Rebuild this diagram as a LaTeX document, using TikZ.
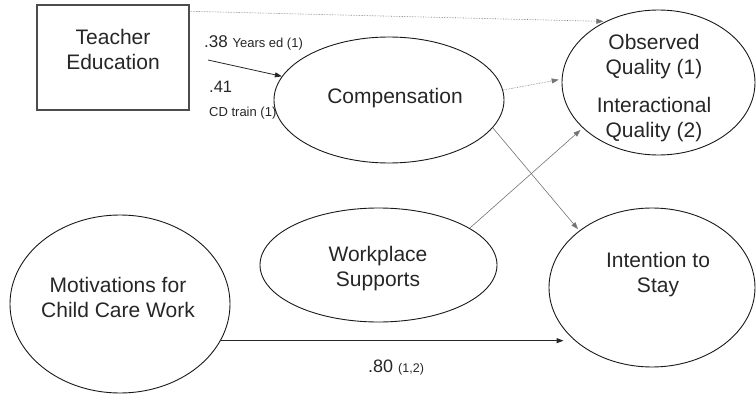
\documentclass[tikz,border=0pt]{standalone}
\usepackage{fontspec}
\setmainfont{Liberation Sans}
\usetikzlibrary{shapes.geometric,arrows.meta}

\tikzset{
  oval/.style={draw=black!90, line width=0.9pt, ellipse, inner sep=0pt},
  txt/.style={font=\fontsize{21}{25}\selectfont, align=center, text=black!85, inner sep=0pt},
  small/.style={inner sep=0pt, anchor=base west, text=black!85},
  link/.style={draw=black!85, line width=0.8pt, -{Triangle[length=7pt,width=5pt]}},
  faint/.style={link, draw=black!55, line width=0.6pt},
}

\begin{document}
\begin{tikzpicture}[x=1pt, y=-1pt]
    \useasboundingbox (0,0) rectangle (756,396);

    % Box and ovals
    \node[draw=black!70, line width=1.4pt, minimum width=152pt, minimum height=105pt, inner sep=0pt] (teach) at (113,57.5) {};
    \node[oval, minimum width=230pt, minimum height=126pt] (comp) at (389,100) {};
    \node[oval, minimum width=193pt, minimum height=145pt] (obs) at (658.5,82.5) {};
    \node[oval, minimum width=237pt, minimum height=114pt] (wp) at (378.5,265) {};
    \node[oval, minimum width=206pt, minimum height=159pt] (int) at (652,287.5) {};
    \node[oval, minimum width=220pt, minimum height=178pt] (mot) at (120,304) {};

    % Texts
    \node[txt] (teachtxt) at (113,49) {Teacher\\Education};
    \node[txt] (comptxt) at (395,98) {Compensation};
    \node[txt] (obstxt) at (654,88.5) {Observed\\Quality (1)\\[13pt]Interactional\\Quality (2)};
    \node[txt] (wptxt) at (378,269) {Workplace\\Supports};
    \node[txt] (inttxt) at (658,275) {Intention to\\Stay};
    \node[txt] (mottxt) at (118,297) {Motivations for\\Child Care Work};

    % Path labels
    \node[small] (lyears) at (204,48) {\fontsize{17}{20}\selectfont .38 \fontsize{13}{15}\selectfont Years ed (1)};
    \node[small, font=\fontsize{16.5}{19}\selectfont] (lcd) at (209,93) {.41};
    \node[small, font=\fontsize{13}{15}\selectfont] (lcdtrain) at (209,117) {CD train (1)};
    \node[small] (lmot) at (368,372) {\fontsize{18}{21}\selectfont .80 \fontsize{12.5}{15}\selectfont (1,2)};

    % Paths
    \coordinate (edstart) at (208,60);
    \draw[link] (edstart) -- (comp);
    \draw[faint, densely dotted, shorten >=2pt] ([yshift=-7pt]teach.north east) -- (obs.131);
    \draw[faint, densely dotted, shorten >=3pt] (comp.5) -- (obs.178);
    \draw[faint, shorten >=3pt] (wp.22) -- (obs.211);
    \draw[faint, shorten >=2pt] (comp.345) -- (int.142);
    \draw[link, line width=1pt] (mot.-20) -- ([xshift=15pt]mot.-20 -| int.west);
\end{tikzpicture}
\end{document}
